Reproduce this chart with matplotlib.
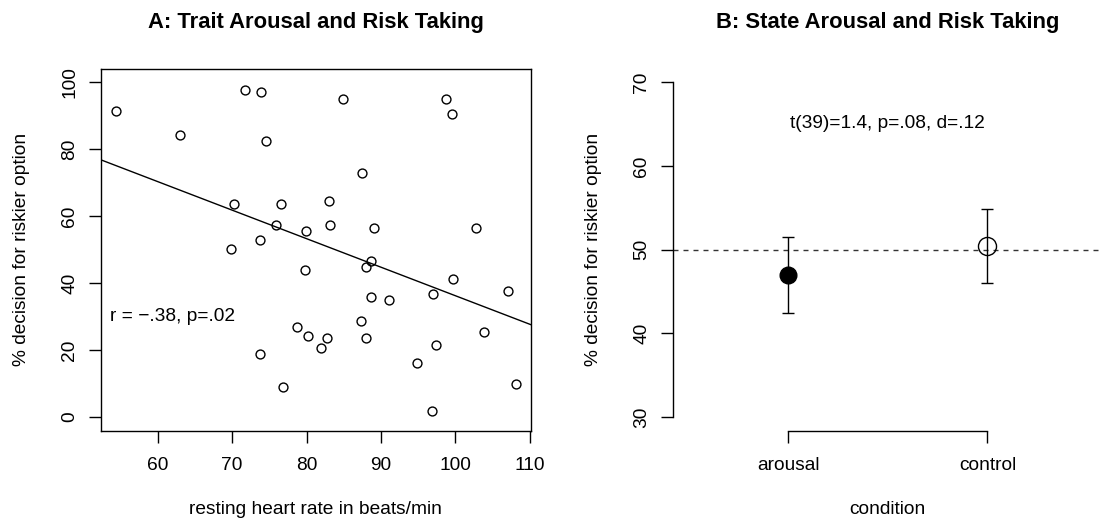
import matplotlib
matplotlib.use("Agg")
import matplotlib.pyplot as plt
import numpy as np

plt.rcParams["font.family"] = ["Liberation Sans", "DejaVu Sans"]

# panel A: resting heart rate vs % risky choices
heart_rate = [54.4, 71.8, 73.9, 63.0, 74.6, 70.2, 76.6, 83.0, 75.9, 79.9,
              83.2, 73.7, 69.9, 84.9, 98.75, 99.6, 87.5, 89.0, 102.7, 79.8,
              78.7, 80.2, 82.7, 82.0, 73.8, 76.9, 88.7, 88.0, 99.65, 107.0,
              97.0, 88.6, 91.1, 87.3, 88.0, 97.45, 103.8, 94.8, 108.1, 96.9]
risky_pct = [91.5, 97.8, 97.0, 84.3, 82.5, 63.8, 63.8, 64.7, 57.5, 55.7,
             57.5, 53.0, 50.3, 95.1, 95.1, 90.6, 72.8, 56.5, 56.5, 44.0,
             26.9, 24.3, 23.5, 20.7, 18.9, 9.1, 46.6, 44.9, 41.3, 37.8,
             36.9, 35.9, 35.1, 28.7, 23.5, 21.6, 25.3, 16.3, 10.0, 1.9]
corr_label = "r = \u2212.38, p=.02"

# panel B: condition means with error bars
conditions = ["arousal", "control"]
cond_means = [47.0, 50.4]
cond_err = [4.55, 4.42]
ttest_label = "t(39)=1.4, p=.08, d=.12"

FS = 13.8
TITLE_FS = 15.8

fig = plt.figure(figsize=(11.03, 5.21), dpi=100)
ax_a = fig.add_axes([0.0913, 0.1737, 0.3901, 0.6939])
ax_b = fig.add_axes([0.6099, 0.1737, 0.3901, 0.6939])

# ---- panel A
ax_a.plot(heart_rate, risky_pct, "o", mfc="none", mec="black", ms=6.4, mew=1.0)
slope, icpt = np.polyfit(heart_rate, risky_pct, 1)
xs = np.array([52.36, 110.14])
ax_a.plot(xs, icpt + slope * xs, color="black", lw=1.0)
ax_a.set_xlim(52.36, 110.14)
ax_a.set_ylim(-4, 104)
ax_a.set_xticks([60, 70, 80, 90, 100, 110])
ax_a.set_yticks([0, 20, 40, 60, 80, 100])
ax_a.text(62, 30, corr_label, fontsize=FS, ha="center", va="center")
ax_a.set_xlabel("resting heart rate in beats/min", fontsize=FS)
ax_a.set_ylabel("% decision for riskier option", fontsize=FS, va="center")
ax_a.set_title("A: Trait Arousal and Risk Taking", fontsize=TITLE_FS,
               fontweight="bold", pad=29.5)
for s in ax_a.spines.values():
    s.set_linewidth(1.0)

# ---- panel B
ax_b.axhline(50, color="#333333", lw=1.0, dashes=(3.6, 3.6), xmin=0.0)
ax_b.errorbar([1], cond_means[:1], yerr=cond_err[:1], fmt="o", color="black",
              ms=12, mfc="black", elinewidth=1.0, capsize=4.2, capthick=1.0)
ax_b.errorbar([2], cond_means[1:], yerr=cond_err[1:], fmt="o", color="black",
              ms=13, mfc="none", mew=1.0, elinewidth=1.0, capsize=4.2,
              capthick=1.0)
ax_b.set_xlim(0.42, 2.58)
ax_b.set_ylim(28.4, 71.6)
ax_b.set_xticks([1, 2])
ax_b.set_xticklabels(conditions)
ax_b.set_yticks([30, 40, 50, 60, 70])
ax_b.text(1.5, 65.1, ttest_label, fontsize=FS, ha="center", va="center")
ax_b.set_xlabel("condition", fontsize=FS)
ax_b.set_ylabel("% decision for riskier option", fontsize=FS, va="center")
ax_b.set_title("B: State Arousal and Risk Taking", fontsize=TITLE_FS,
               fontweight="bold", pad=29.5)
ax_b.spines["top"].set_visible(False)
ax_b.spines["right"].set_visible(False)
ax_b.spines["left"].set_bounds(30, 70)
ax_b.spines["bottom"].set_bounds(1, 2)
for s in ax_b.spines.values():
    s.set_linewidth(1.0)

for ax in (ax_a, ax_b):
    ax.tick_params(axis="both", labelsize=FS, length=8.3, width=1.0)
    ax.tick_params(axis="x", pad=11.0)
    ax.tick_params(axis="y", pad=8.0)
    plt.setp(ax.get_yticklabels(), rotation=90, va="center")
    ax.xaxis.labelpad = 19.5
    ax.yaxis.set_label_coords(-0.183, 0.5)

fig.savefig("out.png", dpi=100)
